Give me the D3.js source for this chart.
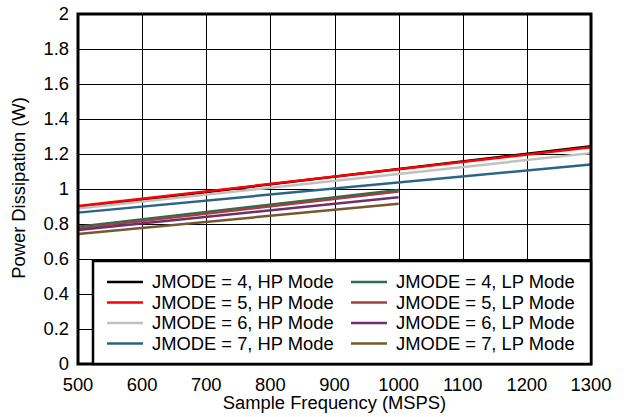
<!DOCTYPE html>
<html>
<head>
<meta charset="utf-8">
<script src="https://cdn.jsdelivr.net/npm/d3@7"></script>
<style>
  body { margin: 0; background: #fff; }
  text { font-family: "Liberation Sans", Arial, sans-serif; font-size: 18px; }
</style>
</head>
<body>
<script>
// sample frequency (MSPS) end points of each curve
var hpFreq = [500, 1300];
var lpFreq = [500, 1000];

// power dissipation (W)
var j4hp = [0.895, 1.245];
var j5hp = [0.903, 1.238];
var j6hp = [0.888, 1.205];
var j7hp = [0.865, 1.140];
var j4lp = [0.785, 0.994];
var j5lp = [0.775, 0.985];
var j6lp = [0.766, 0.953];
var j7lp = [0.743, 0.916];

var seriesNames = [
    "JMODE = 4, HP Mode", "JMODE = 5, HP Mode", "JMODE = 6, HP Mode", "JMODE = 7, HP Mode",
    "JMODE = 4, LP Mode", "JMODE = 5, LP Mode", "JMODE = 6, LP Mode", "JMODE = 7, LP Mode"
];
var colors = ["#000000", "#ff0000", "#c0c0c0", "#2b6585", "#2a6e4c", "#a3403f", "#6e2f6e", "#76582e"];

var xTicks = [500, 600, 700, 800, 900, 1000, 1100, 1200, 1300];
var yTicks = [0, 0.2, 0.4, 0.6, 0.8, 1, 1.2, 1.4, 1.6, 1.8, 2];

var series = [
    { x: hpFreq, y: j4hp }, { x: hpFreq, y: j5hp }, { x: hpFreq, y: j6hp }, { x: hpFreq, y: j7hp },
    { x: lpFreq, y: j4lp }, { x: lpFreq, y: j5lp }, { x: lpFreq, y: j6lp }, { x: lpFreq, y: j7lp }
];

var W = 626, H = 417;
var margin = { top: 14, right: 35, bottom: 53, left: 78 };
var w = W - margin.left - margin.right;
var h = H - margin.top - margin.bottom;
var stretch = 1.02;

var svg = d3.select("body").append("svg")
    .attr("width", W)
    .attr("height", H);

var g = svg.append("g")
    .attr("transform", "translate(" + margin.left + "," + margin.top + ")");

var x = d3.scaleLinear().domain([500, 1300]).range([0, w]);
var y = d3.scaleLinear().domain([0, 2]).range([h, 0]);

function place(px, py, rot) {
    return "translate(" + px + "," + py + ")" + (rot ? " rotate(" + rot + ")" : "") + " scale(" + stretch + ",1)";
}

// grid
g.selectAll(".vgrid").data(xTicks).enter().append("line")
    .attr("x1", function(d) { return Math.round(x(d)) + 0.5; })
    .attr("x2", function(d) { return Math.round(x(d)) + 0.5; })
    .attr("y1", 0).attr("y2", h)
    .attr("stroke", "#000").attr("stroke-width", 1);

g.selectAll(".hgrid").data(yTicks).enter().append("line")
    .attr("y1", function(d) { return Math.round(y(d)) + 0.5; })
    .attr("y2", function(d) { return Math.round(y(d)) + 0.5; })
    .attr("x1", 0).attr("x2", w)
    .attr("stroke", "#000").attr("stroke-width", 1);

// tick labels
g.selectAll(".ylab").data(yTicks).enter().append("text")
    .attr("transform", function(d) { return place(-9, y(d)); })
    .attr("dy", "0.36em")
    .attr("text-anchor", "end")
    .text(function(d) { return d3.format("~g")(d); });

g.selectAll(".xlab").data(xTicks).enter().append("text")
    .attr("transform", function(d) { return place(x(d), h + 27); })
    .attr("text-anchor", "middle")
    .text(function(d) { return d; });

// curves
var line = d3.line()
    .x(function(d) { return x(d[0]); })
    .y(function(d) { return y(d[1]); });

series.forEach(function(s, i) {
    g.append("path")
        .datum(d3.zip(s.x, s.y))
        .attr("d", line)
        .attr("fill", "none")
        .attr("stroke", colors[i])
        .attr("stroke-width", 2.5);
});

// frame
g.append("rect")
    .attr("x", 0).attr("y", 0)
    .attr("width", w).attr("height", h)
    .attr("fill", "none")
    .attr("stroke", "#000")
    .attr("stroke-width", 3);

// legend
var lg = g.append("g").attr("transform", "translate(15," + (261 - margin.top) + ")");
lg.append("rect")
    .attr("x", 0).attr("y", 0)
    .attr("width", w - 15).attr("height", h - (261 - margin.top))
    .attr("fill", "#fff")
    .attr("stroke", "#000")
    .attr("stroke-width", 2.5);

seriesNames.forEach(function(name, i) {
    var col = Math.floor(i / 4), row = i % 4;
    var lx = 14 + col * 244;
    var ly = 21 + row * 20.5;
    lg.append("line")
        .attr("x1", lx).attr("x2", lx + 36)
        .attr("y1", ly).attr("y2", ly)
        .attr("stroke", colors[i])
        .attr("stroke-width", 2.5);
    lg.append("text")
        .attr("transform", place(lx + 45, ly))
        .attr("dy", "0.36em")
        .text(name);
});

// axis titles
svg.append("text")
    .attr("transform", place(margin.left + w / 2, 409))
    .attr("text-anchor", "middle")
    .text("Sample Frequency (MSPS)");

svg.append("text")
    .attr("transform", place(25, margin.top + h / 2 - 1, -90))
    .attr("text-anchor", "middle")
    .text("Power Dissipation (W)");
</script>
</body>
</html>
